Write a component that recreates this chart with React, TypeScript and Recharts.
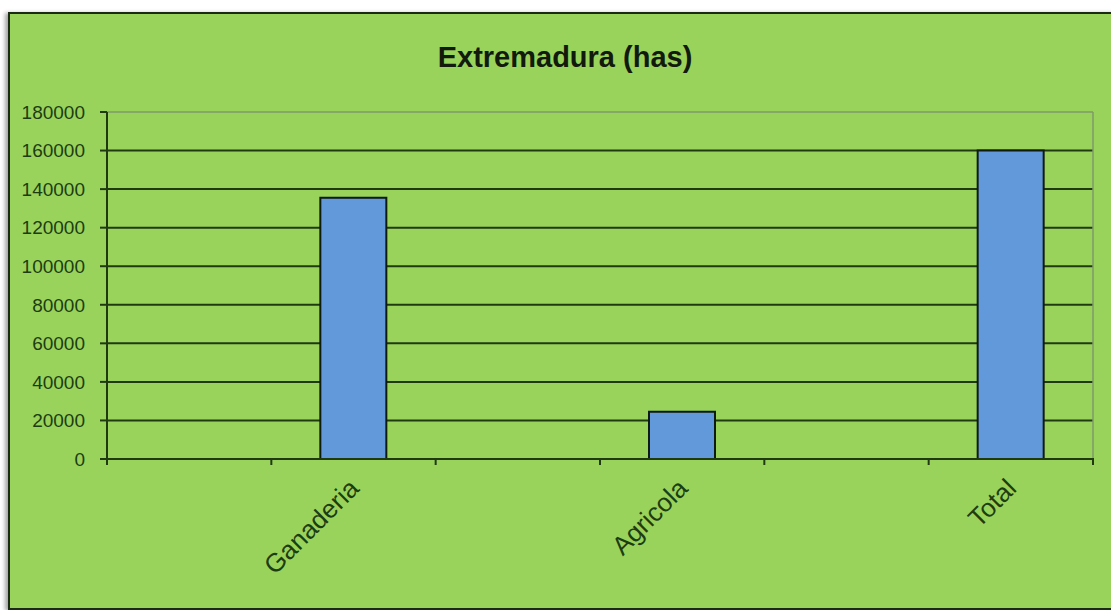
import * as React from 'react';
import { BarChart, Bar, XAxis, YAxis, CartesianGrid } from 'recharts';

// categorías: las vacías dejan hueco entre barras, como en el original
const categories = ['', 'Ganaderia', '', 'Agricola', '', 'Total'];
const hectares: (number | null)[] = [null, 135500, null, 24500, null, 160000];
const yTicks = [0, 20000, 40000, 60000, 80000, 100000, 120000, 140000, 160000, 180000];

const data = categories.map((name, i) => ({ name, has: hectares[i] }));

const FONT = '"Liberation Sans", Arial, sans-serif';
const GRID = '#1f3a12';
const TEXT = '#1c3d12';

// marcas en los bordes de cada categoría (estilo Excel) + etiqueta girada
function CategoryTick(props: any) {
  const { x, y, payload, index, visibleTicksCount } = props;
  const half = payload && payload.offset ? payload.offset : 0;
  const isLast = visibleTicksCount != null ? index === visibleTicksCount - 1 : index === categories.length - 1;
  const ax = x + 7;
  const ay = y + 31;
  return (
    <g>
      <line x1={x - half} y1={y - 1} x2={x - half} y2={y + 6} stroke={GRID} strokeWidth={2} />
      {isLast && (
        <line x1={x + half} y1={y - 1} x2={x + half} y2={y + 6} stroke={GRID} strokeWidth={2} />
      )}
      {payload && payload.value ? (
        <text
          x={ax}
          y={ay}
          transform={`rotate(-45 ${ax} ${ay})`}
          textAnchor="end"
          fontFamily={FONT}
          fontSize={26}
          fill={TEXT}
        >
          {payload.value}
        </text>
      ) : null}
    </g>
  );
}

export default function App(): React.JSX.Element {
  return (
    <div
      style={{
        position: 'absolute',
        left: 0,
        top: 0,
        width: 1111,
        height: 610,
        overflow: 'hidden',
        background: '#ffffff',
      }}
    >
      <div
        style={{
          position: 'absolute',
          left: 8,
          top: 12,
          width: 1110,
          height: 594,
          background: '#9AD35B',
          border: '2px solid #1b2a14',
          boxShadow: '-3px 1px 4px rgba(0,0,0,0.35)',
        }}
      >
        <div
          style={{
            position: 'absolute',
            left: 0,
            top: 27,
            width: 1110,
            textAlign: 'center',
            fontFamily: FONT,
            fontWeight: 'bold',
            fontSize: 29,
            color: '#111a0c',
          }}
        >
          Extremadura (has)
        </div>
        <BarChart
          width={1101}
          height={594}
          data={data}
          margin={{ top: 97, right: 17, bottom: 148, left: 0 }}
        >
          <CartesianGrid
            horizontal
            vertical={false}
            stroke={GRID}
            strokeWidth={2}
            strokeOpacity={1}
            horizontalValues={yTicks.slice(0, -1)}
          />
          <XAxis
            dataKey="name"
            height={1}
            tickLine={false}
            tickSize={0}
            tickMargin={0}
            axisLine={{ stroke: GRID, strokeWidth: 2 }}
            tick={<CategoryTick />}
            interval={0}
          />
          <XAxis
            xAxisId="top"
            orientation="top"
            height={1}
            tick={false}
            tickLine={false}
            axisLine={{ stroke: '#7f9a6a', strokeWidth: 1.5 }}
          />
          <YAxis
            width={97}
            domain={[0, 180000]}
            ticks={yTicks}
            interval={0}
            tickSize={7}
            tickMargin={15}
            tickLine={{ stroke: GRID, strokeWidth: 2 }}
            axisLine={{ stroke: GRID, strokeWidth: 2 }}
            tick={{ fontFamily: FONT, fontSize: 19, fill: TEXT }}
          />
          <YAxis
            yAxisId="right"
            orientation="right"
            width={1}
            tick={false}
            tickLine={false}
            axisLine={{ stroke: '#7f9a6a', strokeWidth: 1.5 }}
          />
          <Bar
            dataKey="has"
            fill="#6199DB"
            stroke="#0f1a10"
            strokeWidth={2}
            barSize={66}
            isAnimationActive={false}
          />
        </BarChart>
      </div>
    </div>
  );
}
